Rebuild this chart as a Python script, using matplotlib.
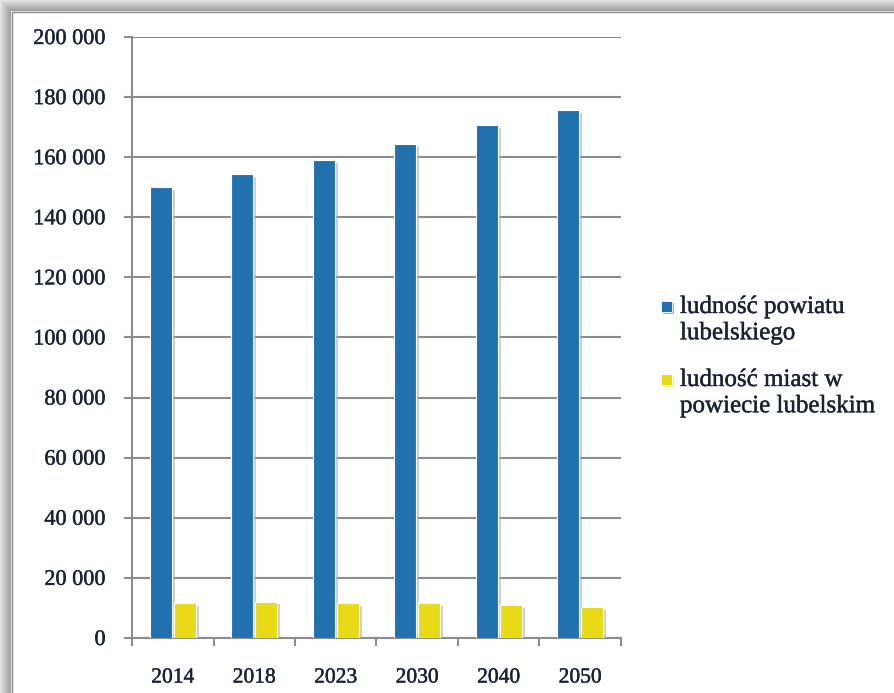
import matplotlib
matplotlib.use("Agg")
import matplotlib.pyplot as plt
import matplotlib.patheffects as pe
from matplotlib.patches import Rectangle
import numpy as np

years = ["2014", "2018", "2023", "2030", "2040", "2050"]
powiat = [150000, 154400, 159100, 164500, 170700, 175700]
miasta = [11500, 12100, 11500, 11500, 11000, 10200]
series_names = ["ludność powiatu\nlubelskiego", "ludność miast w\npowiecie lubelskim"]
ytick_vals = [0, 20000, 40000, 60000, 80000, 100000, 120000, 140000, 160000, 180000, 200000]

blue = "#2171ae"
yellow = "#e9da17"
txtc = "#1a2233"
font = ["Liberation Serif", "DejaVu Serif"]
plt.rcParams["font.family"] = font
thick = [pe.withStroke(linewidth=0.3, foreground=txtc)]

W, H = 895, 693
fig = plt.figure(figsize=(W / 100, H / 100), dpi=100)
fig.patch.set_facecolor("#e4e4e4")

# frame with shadow gradient on top/left (outer light, inner dark)
for i in range(12):
    c = 0.89 - 0.027 * i
    fig.patches.append(Rectangle((i / W, -0.1), 1.2, (H - i) / H + 0.1,
                                 transform=fig.transFigure, facecolor=(c, c, c),
                                 edgecolor="none", zorder=0))
fig.patches.append(Rectangle((11 / W, -0.1), 1.2, (H - 11) / H + 0.1,
                             transform=fig.transFigure, facecolor="#f4f4f4",
                             edgecolor="none", zorder=1))
fig.patches.append(Rectangle((12.5 / W, -0.1), 1.2, (H - 12.5) / H + 0.1,
                             transform=fig.transFigure, facecolor="white",
                             edgecolor="#8a8a8a", linewidth=1, zorder=1))

ax = fig.add_axes([132 / W, 1 - 638 / H, (621 - 132) / W, (638 - 37) / H])
ax.set_zorder(2)
ax.patch.set_alpha(0)

x = np.arange(len(years))
bw = 0.27
shadow = [pe.SimplePatchShadow(offset=(2, -2), shadow_rgbFace="#b0b0b0", alpha=0.6), pe.Normal()]
b1 = ax.bar(x - bw / 2 - 0.012, powiat, bw, color=blue, edgecolor="white", linewidth=0.8,
            zorder=3)
b2 = ax.bar(x + bw / 2 + 0.012, miasta, bw, color=yellow, edgecolor="white", linewidth=0.8,
            zorder=3)
for b in list(b1) + list(b2):
    b.set_path_effects(shadow)

ax.set_xlim(-0.5, len(years) - 0.5)
ax.set_ylim(0, 200000)
ax.set_yticks(ytick_vals)
ax.set_yticklabels([f"{v:,}".replace(",", " ") for v in ytick_vals])
ax.yaxis.grid(True, color="#8c8c8c", linewidth=1.5, zorder=0)
ax.set_axisbelow(True)

ax.set_xticks(np.arange(len(years) + 1) - 0.5, minor=False)
ax.set_xticklabels([])
ax.set_xticks(x, minor=True)
ax.set_xticklabels(years, minor=True)
ax.tick_params(axis="x", which="major", length=6, width=1.5, color="#8c8c8c")
ax.tick_params(axis="x", which="minor", length=0, pad=22, labelsize=15.5, labelcolor=txtc)
ax.tick_params(axis="y", length=6, width=1.5, color="#8c8c8c", labelsize=16,
               labelcolor=txtc, pad=13)
for t in ax.get_yticklabels() + ax.get_xticklabels(minor=True):
    t.set_path_effects(thick)

for s in ["top", "right"]:
    ax.spines[s].set_visible(False)
for s in ["left", "bottom"]:
    ax.spines[s].set_color("#8c8c8c")
    ax.spines[s].set_linewidth(1.5)

# manual legend (handle aligned with first line, as in the reference)
leg_tops = [296, 369]
for name, col, top in zip(series_names, [blue, yellow], leg_tops):
    fig.patches.append(Rectangle((661 / W, 1 - (top + 16) / H), 11 / W, 11 / H,
                                 transform=fig.transFigure, facecolor=col,
                                 edgecolor="white", linewidth=0.6, zorder=3,
                                 path_effects=[pe.SimplePatchShadow(offset=(1.2, -1.2),
                                                                    shadow_rgbFace=col, alpha=0.5),
                                               pe.Normal()]))
    fig.text(680 / W, 1 - top / H, name, fontsize=18, color=txtc, va="top", ha="left",
             linespacing=1.25, path_effects=thick, zorder=4)

fig.savefig("out.png", dpi=100, facecolor=fig.get_facecolor())
